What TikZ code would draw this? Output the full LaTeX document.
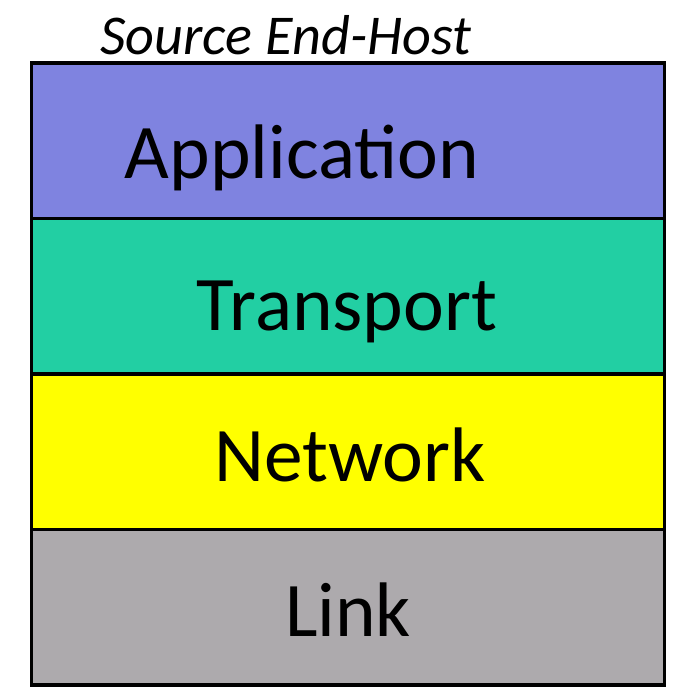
\documentclass[tikz,border=0pt]{standalone}
\usepackage{fontspec}
\setmainfont{Carlito}
\usepackage{tikz}
\usetikzlibrary{positioning}
\definecolor{appblue}{HTML}{7F83E0}
\definecolor{trteal}{HTML}{22CFA3}
\definecolor{netyellow}{HTML}{FFFF00}
\definecolor{linkgray}{HTML}{ADAAAD}

\begin{document}
\begin{tikzpicture}[x=0.02cm,y=-0.02cm,
  layer/.style={draw=black,line width=2pt,minimum width=12.66cm,minimum height=3.11cm,inner sep=0pt,outer sep=0pt,anchor=north west},
  lbl/.style={font=\fontsize{44}{48}\selectfont,anchor=base,inner sep=0pt}]
\useasboundingbox (0,0) rectangle (694,688);
\node[layer,fill=appblue] (app) at (31.5,63) {};
\node[layer,fill=trteal,below=0pt of app] (tr) {};
\node[layer,fill=netyellow,below=0pt of tr] (net) {};
\node[layer,fill=linkgray,below=0pt of net] (lnk) {};
\node[lbl] (applbl) at (302,179) {Application};
\node[lbl] (trlbl) at (347,331) {Transport};
\node[lbl] (netlbl) at (350,482) {Network};
\node[lbl] (lnklbl) at (348,637) {Link};
\node[font=\fontsize{32}{35}\selectfont\itshape,anchor=base west,inner sep=0pt] (title) at (100,55) {Source End-Host};
\end{tikzpicture}
\end{document}
